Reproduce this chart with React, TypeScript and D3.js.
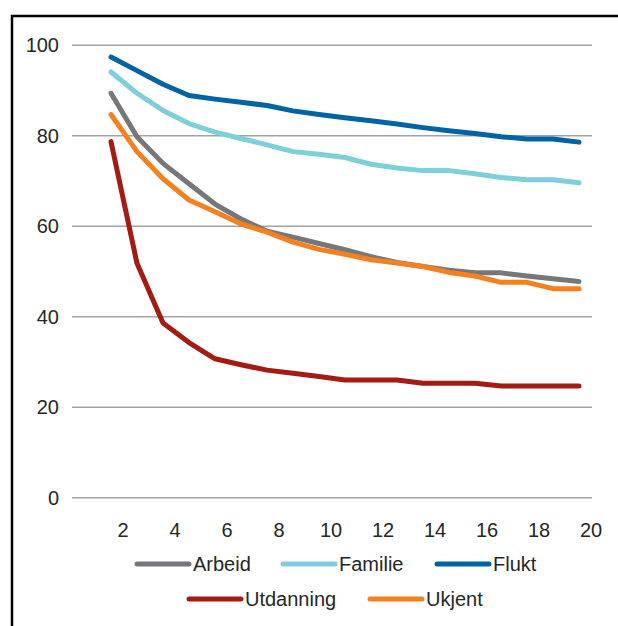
import { useMemo } from 'react';
import * as d3 from 'd3';

const years = [1.5, 2.5, 3.5, 4.5, 5.5, 6.5, 7.5, 8.5, 9.5, 10.5, 11.5, 12.5, 13.5, 14.5, 15.5, 16.5, 17.5, 18.5, 19.5];

const arbeid = [89.4, 79.8, 73.9, 69.4, 64.9, 61.6, 58.9, 57.6, 56.2, 54.8, 53.3, 52.0, 51.1, 50.3, 49.7, 49.7, 49.0, 48.4, 47.8];
const familie = [94.1, 89.4, 85.6, 82.7, 80.8, 79.4, 78.0, 76.5, 75.9, 75.2, 73.7, 72.9, 72.3, 72.3, 71.6, 70.8, 70.3, 70.3, 69.6];
const flukt = [97.4, 94.4, 91.4, 88.9, 88.1, 87.4, 86.7, 85.5, 84.7, 84.0, 83.3, 82.6, 81.8, 81.1, 80.5, 79.8, 79.3, 79.3, 78.6];
const utdanning = [78.7, 51.8, 38.6, 34.3, 30.7, 29.4, 28.2, 27.5, 26.8, 26.0, 26.0, 26.0, 25.3, 25.3, 25.3, 24.7, 24.7, 24.7, 24.7];
const ukjent = [84.7, 76.5, 70.5, 65.8, 63.2, 60.5, 58.7, 56.5, 54.9, 53.8, 52.6, 51.9, 51.1, 49.8, 49.0, 47.6, 47.6, 46.2, 46.2];

const xTicks = [2, 4, 6, 8, 10, 12, 14, 16, 18, 20];
const yTicks = [0, 20, 40, 60, 80, 100];

const series = [
  { name: 'Arbeid', values: arbeid, color: '#76777a' },
  { name: 'Familie', values: familie, color: '#7dcfd9' },
  { name: 'Flukt', values: flukt, color: '#0064a4' },
  { name: 'Utdanning', values: utdanning, color: '#a31b12' },
  { name: 'Ukjent', values: ukjent, color: '#f58020' },
];

// legend layout: [row, symbol start x]
const legendPos: [number, number][] = [
  [0, 137],
  [0, 283],
  [0, 437],
  [1, 189],
  [1, 370],
];

const font = '"Liberation Sans", Arial, sans-serif';

export default function App() {
  const width = 618;
  const height = 626;

  const x = useMemo(() => d3.scaleLinear().domain([0, 20]).range([72, 592]), []);
  const y = useMemo(() => d3.scaleLinear().domain([0, 100]).range([497.7, 45.3]), []);

  const line = d3
    .line<number>()
    .x((_, i) => x(years[i]))
    .y((d) => y(d));

  return (
    <svg
      width={width}
      height={height}
      style={{ position: 'absolute', left: 0, top: 0, background: '#fff' }}
    >
      <rect x={12} y={16} width={width + 20} height={height + 20} fill="#fff" stroke="#000" strokeWidth={2.5} />
      {yTicks.map((t) => (
        <g key={t}>
          <line x1={x(0)} x2={x(20)} y1={y(t)} y2={y(t)} stroke="#a3a3a3" strokeWidth={1.5} />
          <text
            x={59}
            y={y(t)}
            dy="0.35em"
            textAnchor="end"
            fontFamily={font}
            fontSize={20}
            fill="#262626"
          >
            {t}
          </text>
        </g>
      ))}
      {xTicks.map((t) => (
        <text
          key={t}
          x={x(t) - 1}
          y={537}
          textAnchor="middle"
          fontFamily={font}
          fontSize={20}
          fill="#262626"
        >
          {t}
        </text>
      ))}
      {series.map((s) => (
        <path
          key={s.name}
          d={line(s.values)!}
          fill="none"
          stroke={s.color}
          strokeWidth={5}
          strokeLinecap="round"
          strokeLinejoin="round"
        />
      ))}
      {series.map((s, i) => {
        const [row, lx] = legendPos[i];
        const ly = row === 0 ? 564 : 599;
        return (
          <g key={s.name}>
            <line x1={lx} x2={lx + 52} y1={ly} y2={ly} stroke={s.color} strokeWidth={5} strokeLinecap="round" />
            <text x={lx + 56} y={ly} dy="0.36em" fontFamily={font} fontSize={20} fill="#262626">
              {s.name}
            </text>
          </g>
        );
      })}
    </svg>
  );
}
